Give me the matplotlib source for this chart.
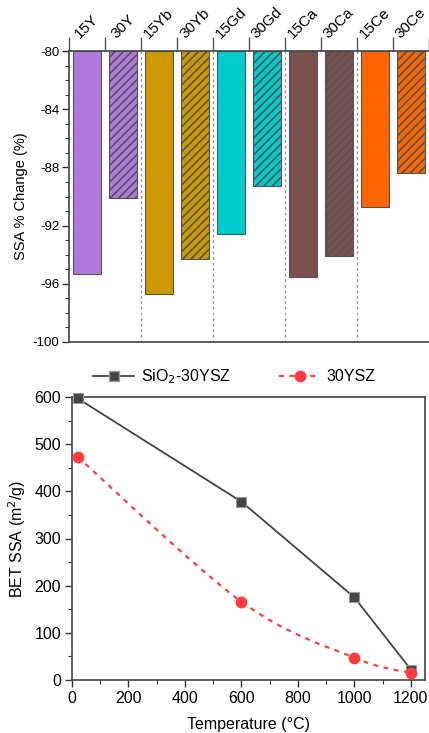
import matplotlib
matplotlib.use("Agg")
import matplotlib.pyplot as plt
from matplotlib.path import Path
from matplotlib.patches import PathPatch
from matplotlib.lines import Line2D
import numpy as np

plt.rcParams['font.family'] = ['Liberation Sans', 'DejaVu Sans']
plt.rcParams['hatch.linewidth'] = 1.2
plt.rcParams['hatch.color'] = 'black'

# top panel data
samples = ['15Y', '30Y', '15Yb', '30Yb', '15Gd', '30Gd', '15Ca', '30Ca', '15Ce', '30Ce']
ssa_change = [-95.3, -90.1, -96.7, -94.3, -92.6, -89.3, -95.5, -94.1, -90.7, -88.4]
dopant_colors = ['#b07adc', '#cc9900', '#00cccc', '#7a4f4f', '#ff6600']

# bottom panel data
temperature = [20, 600, 1000, 1200]
ssa_sio2_30ysz = [597, 378, 175, 22]
ssa_30ysz = [473, 166, 47, 15]


def smooth_path(xs, ys):
    # catmull-rom -> cubic bezier, drawn by matplotlib's path renderer
    pts = list(zip(xs, ys))
    p = [pts[0]] + pts + [pts[-1]]
    verts = [pts[0]]
    codes = [Path.MOVETO]
    for i in range(1, len(p) - 2):
        p0, p1, p2, p3 = p[i - 1], p[i], p[i + 1], p[i + 2]
        c1 = (p1[0] + (p2[0] - p0[0]) / 6, p1[1] + (p2[1] - p0[1]) / 6)
        c2 = (p2[0] - (p3[0] - p1[0]) / 6, p2[1] - (p3[1] - p1[1]) / 6)
        verts += [c1, c2, p2]
        codes += [Path.CURVE4] * 3
    return Path(verts, codes)


def main():
    fig = plt.figure(figsize=(4.29, 7.33), dpi=100)

    # ---- top: bar chart ----
    ax1 = fig.add_axes([69 / 429, 1 - 342 / 733, 360 / 429, 291 / 733])
    x = np.arange(len(samples))
    for i in range(len(samples)):
        c = dopant_colors[i // 2]
        hatch = '////' if i % 2 == 1 else None
        ax1.bar(x[i], ssa_change[i] + 80, bottom=-80, width=0.8, color=c,
                edgecolor='#555555', linewidth=0.8, hatch=hatch, zorder=2)
    for b in [1.5, 3.5, 5.5, 7.5]:
        ax1.plot([b, b], [-80, -100], color='#999999', linestyle=(0, (2, 2)),
                 linewidth=1.0, zorder=1)

    ax1.set_xlim(-0.5, 9.5)
    ax1.set_ylim(-100, -80)
    ax1.xaxis.tick_top()
    ax1.set_xticks(x)
    ax1.set_xticklabels(samples, rotation=45, ha='center', va='bottom', fontsize=11)
    ax1.set_xticks(np.arange(-0.5, 10, 1), minor=True)
    ax1.tick_params(axis='x', which='major', length=0, pad=7)
    ax1.tick_params(axis='x', which='minor', length=10, width=1.0, color='#555555',
                    direction='out')
    ax1.set_yticks([-80, -84, -88, -92, -96, -100])
    ax1.set_yticklabels(['-80', '-84', '-88', '-92', '-96', '-100'], fontsize=9.5)
    ax1.set_yticks(np.arange(-100, -79, 1), minor=True)
    ax1.tick_params(axis='y', which='major', length=5, width=1.0, direction='out',
                    color='#333333', pad=2)
    ax1.tick_params(axis='y', which='minor', length=3, width=0.8, direction='out',
                    color='#333333')
    ax1.spines['right'].set_visible(False)
    for s in ['left', 'top', 'bottom']:
        ax1.spines[s].set_color('#444444')
        ax1.spines[s].set_linewidth(1.2)
    ax1.set_ylabel('SSA % Change (%)', fontsize=10.5)
    ax1.yaxis.set_label_coords(-0.115, 0.5)

    # ---- bottom: BET SSA vs temperature ----
    ax2 = fig.add_axes([72 / 429, 1 - 680 / 733, 353 / 429, 283 / 733])
    ax2.plot(temperature, ssa_sio2_30ysz, color='#444444', linewidth=1.3,
             marker='s', markersize=6.5, markerfacecolor='#444444',
             markeredgecolor='#999999', markeredgewidth=0.8, clip_on=False, zorder=3)
    red = '#ff3b3b'
    ax2.add_patch(PathPatch(smooth_path(temperature, ssa_30ysz), fill=False,
                            edgecolor=red, linewidth=1.6, linestyle=(0, (2.2, 2.5)),
                            zorder=2))
    ax2.plot(temperature, ssa_30ysz, linestyle='none', marker='o', markersize=7.5,
             color=red, clip_on=False, zorder=4)

    ax2.set_xlim(0, 1250)
    ax2.set_ylim(0, 600)
    ax2.set_xticks(np.arange(0, 1201, 200))
    ax2.set_xticks(np.arange(0, 1201, 100), minor=True)
    ax2.set_yticks(np.arange(0, 601, 100))
    ax2.set_yticks(np.arange(0, 601, 50), minor=True)
    ax2.tick_params(which='major', length=5, width=1.0, direction='out',
                    labelsize=11.5, color='#333333', pad=3)
    ax2.tick_params(which='minor', length=3, width=0.8, direction='out', color='#333333')
    for s in ax2.spines.values():
        s.set_color('#444444')
        s.set_linewidth(1.2)
    ax2.set_xlabel('Temperature (°C)', fontsize=11.5, labelpad=8)
    ax2.set_ylabel('BET SSA (m$^2$/g)', fontsize=11.5)
    ax2.yaxis.set_label_coords(-0.125, 0.5)

    handles = [
        Line2D([], [], color='#444444', linewidth=1.3, marker='s', markersize=6.5,
               markerfacecolor='#444444', markeredgecolor='#999999'),
        Line2D([], [], color=red, linewidth=1.6, linestyle=(0, (2.2, 2.5)), marker='o',
               markersize=7.5),
    ]
    ax2.legend(handles, ['SiO$_2$-30YSZ', '30YSZ'], loc='lower center',
               bbox_to_anchor=(0.46, 1.0), ncol=2, frameon=False, fontsize=11.5,
               handlelength=2.6, columnspacing=3.0, handletextpad=0.4,
               borderaxespad=0.3)

    fig.savefig('out.png', dpi=100)


if __name__ == '__main__':
    main()
